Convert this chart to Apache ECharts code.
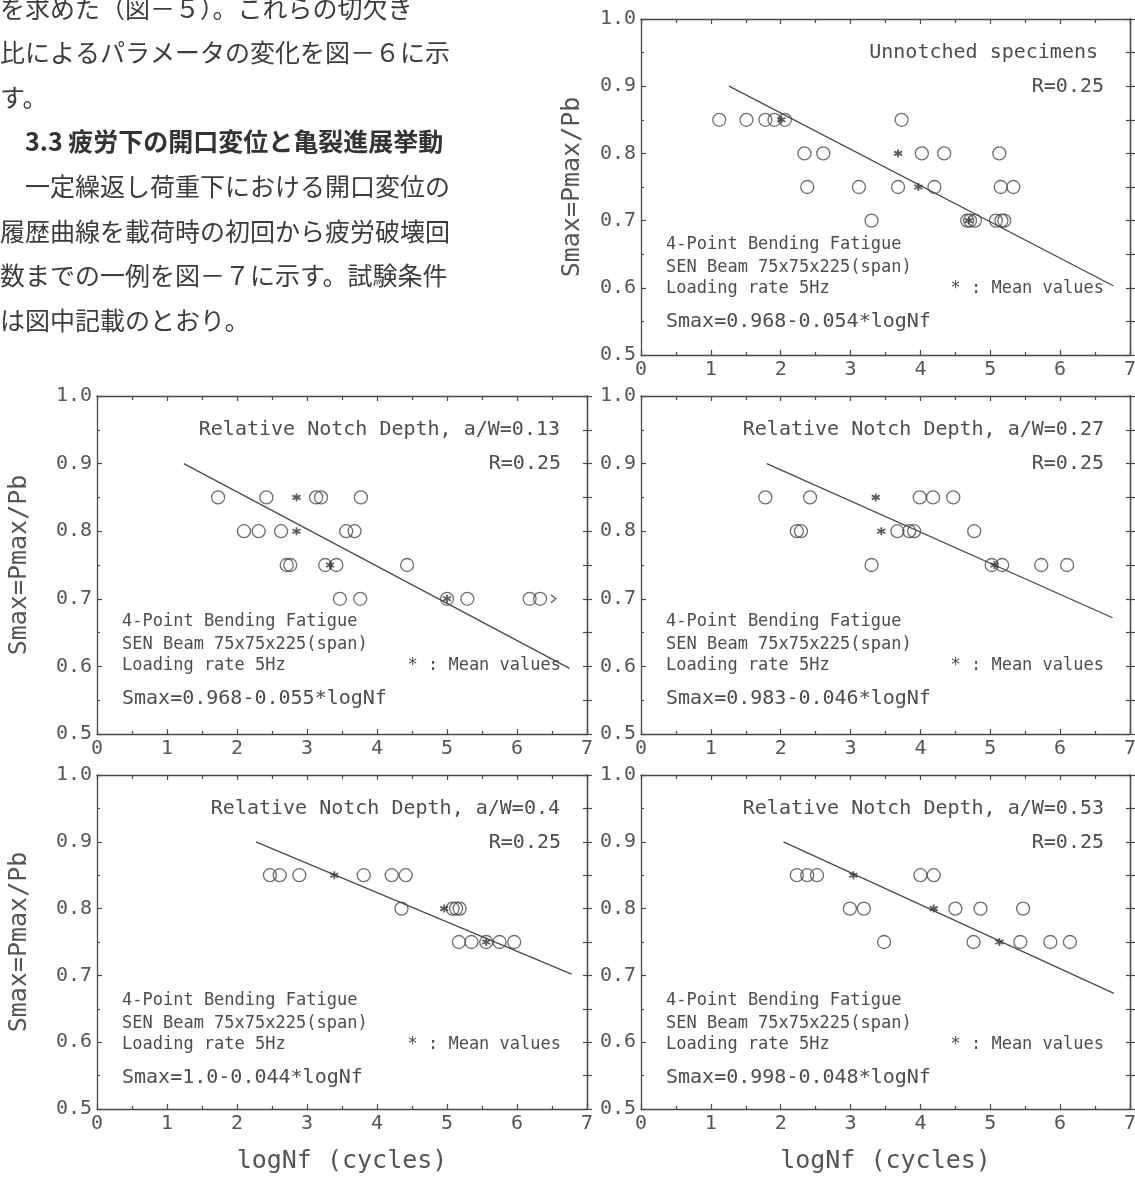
<!DOCTYPE html>
<html>
<head>
<meta charset="utf-8">
<script src="https://cdn.jsdelivr.net/npm/echarts@6/dist/echarts.min.js"></script>
<style>
html,body{margin:0;padding:0;background:#fff;}
#chart{width:1135px;height:1184px;}
</style>
</head>
<body>
<div id="chart"></div>
<script>
// ---------------- DATA ----------------
const bodyTextLines = [
  'を求めた（図－５）。これらの切欠き',
  '比によるパラメータの変化を図－６に示',
  'す。',
  '3.3 疲労下の開口変位と亀裂進展挙動',
  '一定繰返し荷重下における開口変位の',
  '履歴曲線を載荷時の初回から疲労破壊回',
  '数までの一例を図－７に示す。試験条件',
  'は図中記載のとおり。'
];

const panelTitles = [
  'Unnotched specimens',
  'Relative Notch Depth, a/W=0.13',
  'Relative Notch Depth, a/W=0.27',
  'Relative Notch Depth, a/W=0.4',
  'Relative Notch Depth, a/W=0.53'
];
const stressRatioLabel = 'R=0.25';
const conditionLines = ['4-Point Bending Fatigue', 'SEN Beam 75x75x225(span)', 'Loading rate 5Hz'];
const meanLegend = '* : Mean values';
const equations = [
  'Smax=0.968-0.054*logNf',
  'Smax=0.968-0.055*logNf',
  'Smax=0.983-0.046*logNf',
  'Smax=1.0-0.044*logNf',
  'Smax=0.998-0.048*logNf'
];
const yAxisTitle = 'Smax=Pmax/Pb';
const xAxisTitle = 'logNf (cycles)';
const xTickRange = [0, 7];
const yTickRange = [0.5, 1.0];

// Unnotched specimens
const unnotchedCircles = [
  [1.12,0.85],[1.51,0.85],[1.78,0.85],[1.91,0.85],[2.06,0.85],[3.73,0.85],
  [2.34,0.80],[2.61,0.80],[4.02,0.80],[4.34,0.80],[5.13,0.80],
  [2.38,0.75],[3.12,0.75],[3.68,0.75],[4.20,0.75],[5.15,0.75],[5.33,0.75],
  [3.30,0.70],[4.67,0.70],[4.71,0.70],[4.78,0.70],[5.08,0.70],[5.16,0.70],[5.20,0.70]
];
const unnotchedMeans = [[2.01,0.85],[3.68,0.80],[3.97,0.75],[4.69,0.70]];
const unnotchedFit = [[1.26,0.900],[6.76,0.603]];

// a/W = 0.13
const aw013Circles = [
  [1.73,0.85],[2.42,0.85],[3.13,0.85],[3.20,0.85],[3.77,0.85],
  [2.10,0.80],[2.31,0.80],[2.63,0.80],[3.56,0.80],[3.68,0.80],
  [2.71,0.75],[2.76,0.75],[3.26,0.75],[3.42,0.75],[4.43,0.75],
  [3.47,0.70],[3.76,0.70],[5.00,0.70],[5.29,0.70],[6.18,0.70],[6.33,0.70]
];
const aw013Means = [[2.85,0.85],[2.85,0.80],[3.33,0.75],[5.00,0.70]];
const aw013Runouts = [[6.52,0.70]];
const aw013Fit = [[1.24,0.900],[6.75,0.597]];

// a/W = 0.27
const aw027Circles = [
  [1.78,0.85],[2.42,0.85],[3.99,0.85],[4.18,0.85],[4.47,0.85],
  [2.23,0.80],[2.29,0.80],[3.67,0.80],[3.84,0.80],[3.91,0.80],[4.77,0.80],
  [3.30,0.75],[5.02,0.75],[5.17,0.75],[5.73,0.75],[6.10,0.75]
];
const aw027Means = [[3.36,0.85],[3.44,0.80],[5.06,0.75]];
const aw027Fit = [[1.80,0.900],[6.75,0.672]];

// a/W = 0.4
const aw040Circles = [
  [2.47,0.85],[2.61,0.85],[2.89,0.85],[3.81,0.85],[4.21,0.85],[4.41,0.85],
  [4.35,0.80],[5.08,0.80],[5.13,0.80],[5.18,0.80],
  [5.17,0.75],[5.35,0.75],[5.56,0.75],[5.75,0.75],[5.96,0.75]
];
const aw040Means = [[3.39,0.85],[4.96,0.80],[5.56,0.75]];
const aw040Fit = [[2.27,0.900],[6.78,0.702]];

// a/W = 0.53
const aw053Circles = [
  [2.23,0.85],[2.38,0.85],[2.52,0.85],[4.00,0.85],[4.19,0.85],
  [2.99,0.80],[3.19,0.80],[4.50,0.80],[4.86,0.80],[5.47,0.80],
  [3.48,0.75],[4.76,0.75],[5.43,0.75],[5.86,0.75],[6.14,0.75]
];
const aw053Means = [[3.04,0.85],[4.19,0.80],[5.13,0.75]];
const aw053Fit = [[2.04,0.900],[6.77,0.673]];

// ---------------- LAYOUT / STYLE ----------------
const panelBoxes = [
  {left:641, top:19,  width:489, height:336, yTitleX:572, xTitle:false, titlePad:32},
  {left:97,  top:396, width:490, height:338, yTitleX:19,  xTitle:false, titlePad:27},
  {left:641, top:396, width:489, height:338, yTitleX:null,xTitle:false, titlePad:26},
  {left:97,  top:775, width:490, height:334, yTitleX:19,  xTitle:true,  titlePad:27},
  {left:641, top:775, width:489, height:334, yTitleX:null,xTitle:true,  titlePad:26}
];
const panelSeries = [
  {circles: unnotchedCircles, means: unnotchedMeans, fit: unnotchedFit, runouts: []},
  {circles: aw013Circles, means: aw013Means, fit: aw013Fit, runouts: aw013Runouts},
  {circles: aw027Circles, means: aw027Means, fit: aw027Fit, runouts: []},
  {circles: aw040Circles, means: aw040Means, fit: aw040Fit, runouts: []},
  {circles: aw053Circles, means: aw053Means, fit: aw053Fit, runouts: []}
];

const MONO = '"DejaVu Sans Mono", "Liberation Mono", monospace';
const INK = '#4a4a4a';
const TXT = '#4d4d4d';
const STAR = 'path://M5,0L5,10M0.67,2.5L9.33,7.5M0.67,7.5L9.33,2.5';
const ARROW = 'path://M0,0L5,4L0,8';

const grids = [], xAxes = [], yAxes = [], series = [], graphics = [];

function axisBase(){
  return {
    axisLine:{show:true, onZero:false, lineStyle:{color:INK, width:1.3}},
    splitLine:{show:false},
    minorSplitLine:{show:false}
  };
}

panelBoxes.forEach((b, i) => {
  grids.push({left:b.left, top:b.top, width:b.width, height:b.height, containLabel:false, outerBoundsMode:'none'});
  // x axes: bottom (labelled) + top
  xAxes.push(Object.assign(axisBase(), {
    gridIndex:i, type:'value', position:'bottom', min:xTickRange[0], max:xTickRange[1], interval:1,
    axisTick:{show:true, inside:true, length:5, lineStyle:{color:INK, width:1.2}},
    minorTick:{show:true, splitNumber:2, length:3, lineStyle:{color:INK, width:1.2}},
    axisLabel:{show:true, margin:5, fontSize:20, fontFamily:MONO, color:'#555', formatter: v => String(v)}
  }));
  xAxes.push(Object.assign(axisBase(), {
    gridIndex:i, type:'value', position:'top', min:xTickRange[0], max:xTickRange[1], interval:1,
    axisTick:{show:true, inside:true, length:5, lineStyle:{color:INK, width:1.2}},
    minorTick:{show:true, splitNumber:2, length:4, lineStyle:{color:INK, width:1.2}},
    axisLabel:{show:false}
  }));
  // y axes: left (labelled), right inside, right outside
  yAxes.push(Object.assign(axisBase(), {
    gridIndex:i, type:'value', position:'left', min:yTickRange[0], max:yTickRange[1], interval:0.1,
    axisTick:{show:true, inside:true, length:5, lineStyle:{color:INK, width:1.2}},
    minorTick:{show:true, splitNumber:2, length:3, lineStyle:{color:INK, width:1.2}},
    axisLabel:{show:true, margin:5, fontSize:20, fontFamily:MONO, color:'#555', formatter: v => v.toFixed(1)}
  }));
  yAxes.push(Object.assign(axisBase(), {
    gridIndex:i, type:'value', position:'right', min:yTickRange[0], max:yTickRange[1], interval:0.1,
    axisTick:{show:true, inside:true, length:4, lineStyle:{color:INK, width:1.2}},
    minorTick:{show:true, splitNumber:2, length:4, lineStyle:{color:INK, width:1.2}},
    axisLabel:{show:false}
  }));
  yAxes.push(Object.assign(axisBase(), {
    gridIndex:i, type:'value', position:'right', min:yTickRange[0], max:yTickRange[1], interval:0.1,
    axisTick:{show:true, inside:false, length:5, lineStyle:{color:INK, width:1.2}},
    minorTick:{show:true, splitNumber:2, length:5, lineStyle:{color:INK, width:1.2}},
    axisLabel:{show:false}
  }));

  const p = panelSeries[i];
  const xi = 2*i, yi = 3*i;
  series.push({
    type:'line', xAxisIndex:xi, yAxisIndex:yi, data:p.fit, symbol:'none', showSymbol:false,
    silent:true, lineStyle:{color:INK, width:1.3}, z:2
  });
  series.push({
    type:'scatter', xAxisIndex:xi, yAxisIndex:yi, data:p.circles, symbol:'circle', symbolSize:13,
    silent:true, itemStyle:{color:'rgba(255,255,255,0)', borderColor:INK, borderWidth:1.3}, z:3
  });
  series.push({
    type:'scatter', xAxisIndex:xi, yAxisIndex:yi, data:p.means, symbol:STAR, symbolSize:8,
    silent:true, itemStyle:{color:'none', borderColor:'#333', borderWidth:1.8}, z:4
  });
  if (p.runouts.length) {
    series.push({
      type:'scatter', xAxisIndex:xi, yAxisIndex:yi, data:p.runouts, symbol:ARROW, symbolSize:[5,8],
      silent:true, itemStyle:{color:'none', borderColor:INK, borderWidth:1.3}, z:4
    });
  }

  // in-panel texts
  const right = b.left + b.width;
  const tx = (x, y, text, size, align) => ({
    type:'text', x, y, silent:true,
    style:{text, fontSize:size, fontFamily:MONO, fill:TXT, align, textAlign:align,
           verticalAlign:'middle', textVerticalAlign:'middle'}
  });
  graphics.push(tx(right - b.titlePad, b.top + 34, panelTitles[i], 20, 'right'));
  graphics.push(tx(right - 26, b.top + 68, stressRatioLabel, 20, 'right'));
  graphics.push(tx(b.left + 25, b.top + 226, conditionLines[0], 17, 'left'));
  graphics.push(tx(b.left + 25, b.top + 249, conditionLines[1], 17, 'left'));
  graphics.push(tx(b.left + 25, b.top + 270, conditionLines[2], 17, 'left'));
  graphics.push(tx(right - 26, b.top + 270, meanLegend, 17, 'right'));
  graphics.push(tx(b.left + 25, b.top + 303, equations[i], 20, 'left'));

  if (b.yTitleX !== null) {
    graphics.push({
      type:'text', x:b.yTitleX, y:b.top + b.height/2, rotation:Math.PI/2, silent:true,
      style:{text:yAxisTitle, fontSize:25, fontFamily:MONO, fill:'#555', align:'center', textAlign:'center',
             verticalAlign:'middle', textVerticalAlign:'middle'}
    });
  }
  if (b.xTitle) {
    graphics.push({
      type:'text', x:b.left + b.width/2, y:b.top + b.height + 52, silent:true,
      style:{text:xAxisTitle, fontSize:25, fontFamily:MONO, fill:'#555', align:'center', textAlign:'center',
             verticalAlign:'middle', textVerticalAlign:'middle'}
    });
  }
});

// Japanese body text (top-left)
const lineIndent = [0,0,0,25,25,0,0,0];
bodyTextLines.forEach((t, k) => {
  graphics.push({
    type:'text', x: lineIndent[k], y: 8 + 44.6*k, silent:true,
    style:{text:t, fontSize:25, fontFamily:'"Noto Sans CJK JP"', fontWeight: k === 3 ? 'bold' : 'normal',
           fill: k === 3 ? '#333' : '#3c3c3c', align:'left', textAlign:'left', verticalAlign:'middle', textVerticalAlign:'middle'}
  });
});

const chart = echarts.init(document.getElementById('chart'), null, {renderer:'canvas'});
chart.setOption({
  backgroundColor:'#ffffff',
  animation:false,
  grid:grids,
  xAxis:xAxes,
  yAxis:yAxes,
  series:series,
  graphic:graphics
});
</script>
</body>
</html>
